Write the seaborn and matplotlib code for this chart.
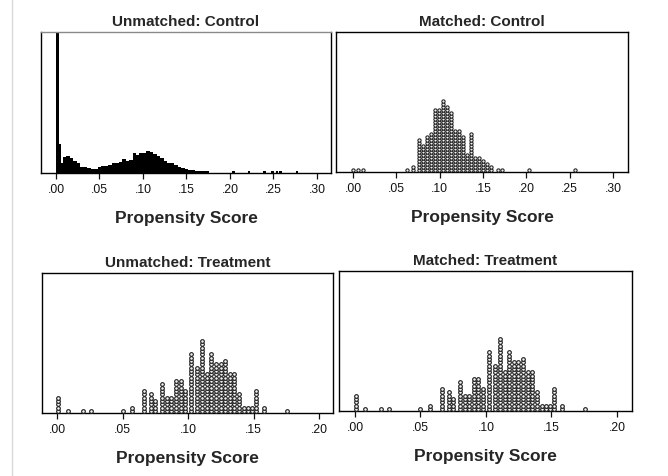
import matplotlib
matplotlib.use("Agg")
import matplotlib.pyplot as plt
from matplotlib.lines import Line2D
import seaborn as sns

# ---------------------------------------------------------------------------
# Data
# ---------------------------------------------------------------------------
# Unmatched control group: very large sample, binned (counts per bin)
uc_edges = [0.000, 0.004, 0.006, 0.008, 0.012, 0.016, 0.020, 0.024, 0.028, 0.032,
            0.036, 0.040, 0.044, 0.048, 0.052, 0.056, 0.060, 0.064, 0.068, 0.072,
            0.076, 0.080, 0.084, 0.088, 0.092, 0.096, 0.100, 0.104, 0.108, 0.112,
            0.116, 0.120, 0.124, 0.128, 0.132, 0.136, 0.140, 0.144, 0.148, 0.152,
            0.156, 0.160, 0.164, 0.168, 0.172, 0.176]
uc_counts = [1500, 86, 31, 49, 51, 45, 37, 29, 19, 17,
             16, 13, 13, 17, 21, 22, 25, 31, 31, 34,
             41, 35, 39, 59, 55, 59, 61, 66, 63, 58,
             51, 45, 37, 31, 29, 25, 19, 14, 11, 9,
             8, 7, 6, 6, 5]
# isolated high-score controls
uc_tail_values = [0.204, 0.222, 0.240, 0.249, 0.254, 0.258, 0.277]
uc_tail_counts = [6, 6, 6, 6, 6, 6, 6]

# Matched control group: dot stacks (score bin, number of cases)
mc_values = [0.0003, 0.0060, 0.0118, 0.0620, 0.0689, 0.0757, 0.0804, 0.0850,
             0.0896, 0.0942, 0.0988, 0.1035, 0.1080, 0.1127, 0.1173, 0.1219,
             0.1265, 0.1311, 0.1358, 0.1404, 0.1450, 0.1496, 0.1542, 0.1588,
             0.1678, 0.1716, 0.2025, 0.2557]
mc_counts = [1, 1, 1, 1, 2, 11, 9, 12,
             13, 21, 21, 24, 22, 20, 14, 14,
             12, 6, 13, 5, 5, 4, 3, 2,
             1, 1, 1, 1]

# Treatment group (identical before and after matching)
tr_values = [0.0005, 0.0080, 0.0199, 0.0257, 0.0500, 0.0570, 0.0664, 0.0715,
             0.0748, 0.0804, 0.0838, 0.0872, 0.0908, 0.0943, 0.0980, 0.1025,
             0.1066, 0.1105, 0.1143, 0.1176, 0.1211, 0.1248, 0.1282, 0.1320,
             0.1354, 0.1389, 0.1428, 0.1460, 0.1490, 0.1520, 0.1580, 0.1758]
tr_counts = [5, 1, 1, 1, 1, 2, 7, 6,
             4, 9, 5, 5, 10, 10, 7, 18,
             14, 22, 12, 18, 15, 15, 16, 12,
             12, 6, 2, 2, 2, 7, 2, 1]

ticks_control = ['.00', '.05', '.10', '.15', '.20', '.25', '.30']
ticks_treatment = ['.00', '.05', '.10', '.15', '.20']

titles = ['Unmatched: Control', 'Matched: Control',
          'Unmatched: Treatment', 'Matched: Treatment']
x_title = 'Propensity Score'

# ---------------------------------------------------------------------------
# Style
# ---------------------------------------------------------------------------
sns.set_theme(style='white')
plt.rcParams['font.family'] = ['Liberation Sans', 'DejaVu Sans']

W, H = 668, 477
fig = plt.figure(figsize=(W / 100, H / 100), dpi=100)
fig.patch.set_facecolor('white')


def px_box(left, top, right, bottom):
    return [left / W, 1 - bottom / H, (right - left) / W, (bottom - top) / H]


def style_axes(ax, title, tick_labels, xlim, top_color='black'):
    ticks = [float(t) for t in tick_labels]
    ax.set_xlim(*xlim)
    ax.set_xticks(ticks)
    ax.set_xticklabels(tick_labels)
    ax.set_yticks([])
    ax.set_ylabel('')
    ax.tick_params(axis='x', bottom=True, direction='out', length=4.5,
                   width=0.9, pad=2.5, labelsize=8.7, colors='#111111')
    for name, sp in ax.spines.items():
        sp.set_visible(True)
        sp.set_color('black')
        sp.set_linewidth(1.0)
    ax.spines['top'].set_color(top_color)
    ax.set_title(title, fontsize=11, fontweight='bold', pad=5)
    ax.set_xlabel(x_title, fontsize=12.5, fontweight='bold', labelpad=11)
    ax.set_facecolor('white')


def dot_panel(ax, values, counts, size, lw, rows):
    xs, ys = [], []
    for v, c in zip(values, counts):
        for k in range(1, c + 1):
            xs.append(v)
            ys.append(k)
    sns.scatterplot(x=xs, y=ys, ax=ax, marker='o', s=size, color='#f2f2f2',
                    edgecolor='#1c1c1c', linewidth=lw, legend=False, zorder=3)
    ax.set_ylim(0.4, 0.4 + rows)


# Unmatched: Control -- solid profile
ax1 = fig.add_axes(px_box(41, 33, 331, 174))
centers = [(a + b) / 2 for a, b in zip(uc_edges[:-1], uc_edges[1:])]
sns.histplot(x=centers, weights=uc_counts, bins=uc_edges, ax=ax1,
             element='step', fill=True, color='black', alpha=1, linewidth=0)
tail_edges = []
for v in uc_tail_values:
    tail_edges += [v - 0.0015, v + 0.0015]
sns.histplot(x=uc_tail_values, weights=uc_tail_counts, bins=tail_edges, ax=ax1,
             element='step', fill=True, color='black', alpha=1, linewidth=0)
ax1.set_ylim(0, 423)
style_axes(ax1, titles[0], ticks_control, (-0.0172, 0.3161), top_color='#8a8a8a')

# Matched: Control
ax2 = fig.add_axes(px_box(336, 33, 628, 173))
dot_panel(ax2, mc_values, mc_counts, size=5.5, lw=0.75, rows=46.7)
style_axes(ax2, titles[1], ticks_control, (-0.0196, 0.3172))

# Unmatched: Treatment
ax3 = fig.add_axes(px_box(42, 274, 333, 414))
dot_panel(ax3, tr_values, tr_counts, size=7.0, lw=0.8, rows=42)
style_axes(ax3, titles[2], ticks_treatment, (-0.0115, 0.2107))

# Matched: Treatment
ax4 = fig.add_axes(px_box(339, 272, 632, 412))
dot_panel(ax4, tr_values, tr_counts, size=7.0, lw=0.8, rows=42)
style_axes(ax4, titles[3], ticks_treatment, (-0.0122, 0.2115))

# page margin rule on the left
fig.add_artist(Line2D([12.5 / W, 12.5 / W], [0, 1], color='#d9d9d9', lw=1.0))

fig.savefig('out.png', dpi=100, facecolor='white')
